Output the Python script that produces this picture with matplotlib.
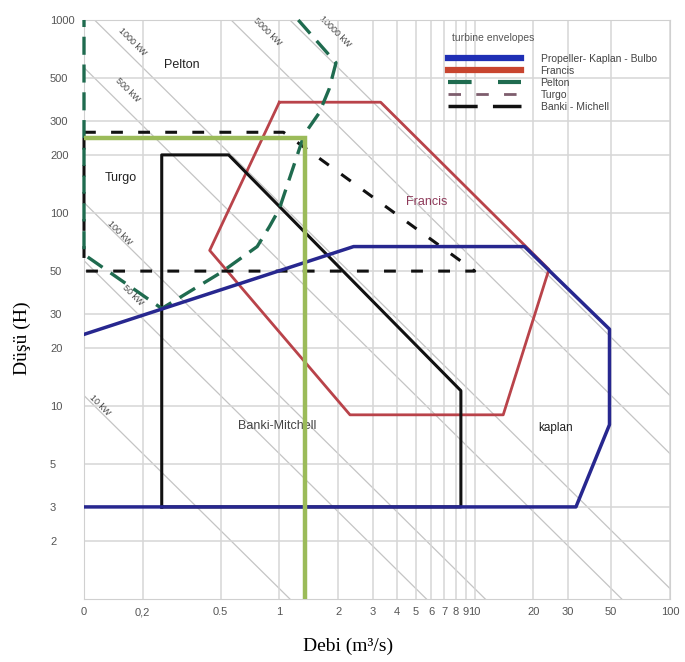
import numpy as np
import matplotlib
matplotlib.use("Agg")
import matplotlib.pyplot as plt
from matplotlib.lines import Line2D

plt.rcParams['font.family'] = ['Liberation Sans', 'DejaVu Sans']
plt.rcParams['lines.scale_dashes'] = False

# axis ticks
x_ticks = [0.1, 0.2, 0.5, 1, 2, 3, 4, 5, 6, 7, 8, 9, 10, 20, 30, 50, 100]
x_labels = ['0', '0,2', '0.5', '1', '2', '3', '4', '5', '6', '7', '8', '9', '10',
            '20', '30', '50', '100']
y_ticks = [2, 3, 5, 10, 20, 30, 50, 100, 200, 300, 500, 1000]
y_labels = ['2', '3', '5', '10', '20', '30', '50', '100', '200', '300', '500', '1000']

# constant power lines (kW), eta ~ 0.9
power_kw = [10, 50, 100, 500, 1000, 5000, 10000]
eta = 0.9
power_label_q = [0.121, 0.177, 0.152, 0.167, 0.177, 0.87, 1.93]
power_label_h = [10.1, 37.6, 78.8, 434, 769, 867, 867]

# turbine envelopes (Q m3/s, H m)
kaplan_q = [0.1, 2.4, 18, 49, 49, 33, 0.1]
kaplan_h = [23.5, 67, 67, 25, 8, 3, 3]

francis_q = [1.0, 3.3, 24, 14, 2.3, 0.44, 1.0]
francis_h = [375, 375, 51, 9, 9, 64, 375]

pelton_q = [1.25, 1.95, 1.8, 1.6, 1.34, 1.0, 0.89, 0.77, 0.5, 0.25, 0.1, 0.1]
pelton_h = [1000, 600, 440, 330, 255, 105, 85, 67, 49, 32, 61, 1000]

turgo_q = [0.1, 1.05, 10, 0.1, 0.1]
turgo_h = [262, 262, 50, 50, 262]

banki_q = [0.25, 0.25, 0.55, 8.5, 8.5, 0.25]
banki_h = [3, 200, 200, 12, 3, 3]

# selected site
site_q = 1.35
site_h = 245

legend_labels = ['Propeller- Kaplan - Bulbo', 'Francis', 'Pelton', 'Turgo', 'Banki - Michell']

W, H = 685, 662
fig = plt.figure(figsize=(W / 100, H / 100), dpi=100)
ax = fig.add_axes([84 / W, 1 - 599 / H, (670 - 84) / W, (599 - 20) / H])
ax.set_xscale('log')
ax.set_yscale('log')
ax.set_xlim(0.1, 100)
ax.set_ylim(1, 1000)

ax.set_xticks(x_ticks, labels=x_labels)
ax.set_yticks(y_ticks, labels=y_labels)
ax.xaxis.set_minor_locator(matplotlib.ticker.NullLocator())
ax.yaxis.set_minor_locator(matplotlib.ticker.NullLocator())
ax.grid(True, color='#d6d6d6', lw=1.1, zorder=0)
ax.tick_params(length=0, labelsize=8, labelcolor='#555555')
ax.tick_params(axis='x', pad=6)
ax.tick_params(axis='y', pad=24.5)
for lab in ax.get_yticklabels():
    lab.set_horizontalalignment('left')
for sp in ax.spines.values():
    sp.set_color('#d0d0d0')

# power lines
qq = np.array([0.05, 200])
for p, lq, lh in zip(power_kw, power_label_q, power_label_h):
    ax.plot(qq, p / (9.81 * eta) / qq, color='#c4c4c4', lw=0.9, zorder=1)
    ax.text(lq, lh, f'{p} kW', rotation=-45, ha='center', va='center',
            fontsize=6.5, color='#444444', zorder=2)

ax.plot(francis_q, francis_h, color='#b9434a', lw=2, zorder=3)
ax.plot(banki_q, banki_h, color='#111111', lw=2.2, zorder=3)
ax.plot(turgo_q, turgo_h, color='#111111', lw=2.2, dashes=(8.5, 11), zorder=4,
        clip_on=False)
ax.plot(pelton_q, pelton_h, color='#1f6b4f', lw=2.4, dashes=(13, 7), zorder=4,
        clip_on=False)
ax.plot(kaplan_q, kaplan_h, color='#27278f', lw=2.5, zorder=5)
ax.plot([0.1, site_q, site_q], [site_h, site_h, 1], color='#9bbb59', lw=3.2,
        zorder=6, solid_joinstyle='miter')

ax.text(0.318, 584, 'Pelton', fontsize=9, color='#222222', ha='center', va='center')
ax.text(0.155, 151, 'Turgo', fontsize=9, color='#222222', ha='center', va='center')
ax.text(5.7, 114, 'Francis', fontsize=9, color='#8e3a5a', ha='center', va='center')
ax.text(0.98, 7.9, 'Banki-Mitchell', fontsize=9, color='#444444', ha='center',
        va='center', zorder=2)
ax.text(26, 7.7, 'kaplan', fontsize=8.5, color='#222222', ha='center', va='center')

handles = [
    Line2D([], [], color='#1f2fb5', lw=4.5),
    Line2D([], [], color='#c8452f', lw=4.5),
    Line2D([], [], color='#1f6b4f', lw=3, dashes=(17, 19)),
    Line2D([], [], color='#7d5d6d', lw=2, dashes=(9, 11)),
    Line2D([], [], color='#111111', lw=2.5, dashes=(21, 11)),
]
leg = ax.legend(handles, legend_labels, loc='upper left',
                bbox_to_anchor=(0.621, 0.942), frameon=False, fontsize=7.5,
                handlelength=7.0, handletextpad=1.9, labelspacing=0.2,
                borderpad=0, borderaxespad=0)
for t in leg.get_texts():
    t.set_color('#444444')
ax.text(0.628, 0.969, 'turbine envelopes', transform=ax.transAxes, fontsize=7.5,
        color='#555555', ha='left', va='center')

fig.text(348 / W, 1 - 646 / H, 'Debi (m³/s)', fontsize=14, ha='center', va='center',
         family=['Liberation Serif', 'DejaVu Serif'])
fig.text(22 / W, 1 - 338 / H, 'Düşü (H)', fontsize=14, ha='center', va='center',
         rotation=90, family=['Liberation Serif', 'DejaVu Serif'])

fig.savefig('out.png', dpi=100)
